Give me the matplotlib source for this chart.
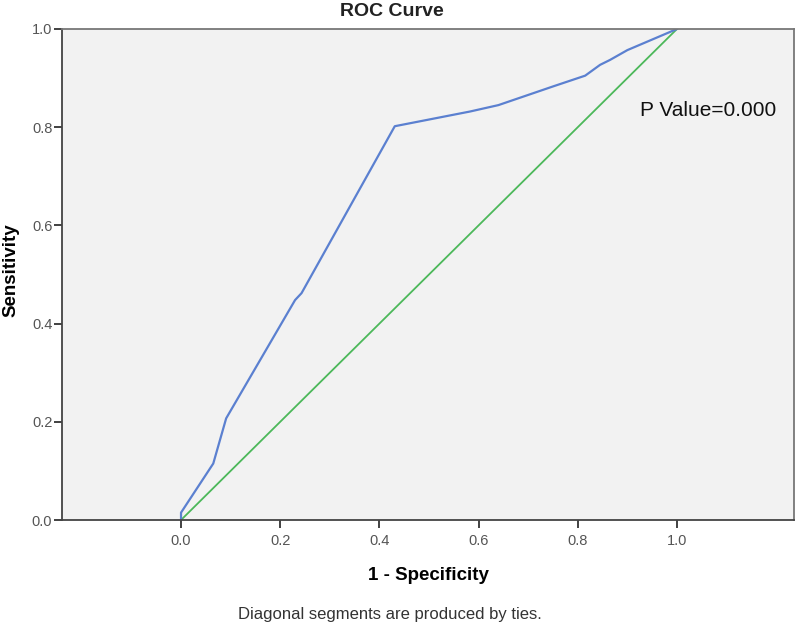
import matplotlib
matplotlib.use("Agg")
import matplotlib.pyplot as plt

plt.rcParams['font.family'] = ['Liberation Sans', 'DejaVu Sans']

# ROC curve
fpr = [0.0, 0.0, 0.065, 0.091, 0.23, 0.243, 0.431, 0.583, 0.64, 0.75, 0.815, 0.845, 0.865, 0.90, 1.0]
tpr = [0.0, 0.015, 0.115, 0.207, 0.448, 0.462, 0.802, 0.832, 0.845, 0.883, 0.905, 0.927, 0.937, 0.957, 1.0]
ref_x = [0.0, 1.0]
ref_y = [0.0, 1.0]
ticks = [0.0, 0.2, 0.4, 0.6, 0.8, 1.0]
p_text = "P Value=0.000"

fig = plt.figure(figsize=(8, 6.28), dpi=100)
ax = fig.add_axes([62 / 800, 1 - 520 / 628, (794 - 62) / 800, (520 - 29) / 628])
ax.set_facecolor('#f2f2f2')

ax.plot(ref_x, ref_y, color='#4cb85a', linewidth=1.3)
ax.plot(fpr, tpr, color='#5b80d0', linewidth=1.6)

ax.set_xlim(-0.24, 1.236)
ax.set_ylim(0, 1)
ax.set_xticks(ticks)
ax.set_yticks(ticks)
ax.set_xticklabels([f"{t:.1f}" for t in ticks])
ax.set_yticklabels([f"{t:.1f}" for t in ticks])
ax.tick_params(direction='out', length=6, width=1.3, colors='#333333',
               labelcolor='#555555', labelsize=10.5)
ax.tick_params(axis='x', pad=4)
ax.tick_params(axis='y', pad=1)
for side in ['left', 'bottom']:
    ax.spines[side].set_color('#444444')
    ax.spines[side].set_linewidth(1.3)
for side in ['top', 'right']:
    ax.spines[side].set_color('#777777')
    ax.spines[side].set_linewidth(1.3)

ax.text(0.925, 0.833, p_text, fontsize=15, color='#111111', va='center', ha='left')

ax.set_xlabel("1 - Specificity", fontsize=13.5, fontweight='bold', labelpad=14)
fig.text(11 / 800, 1 - 270 / 628, "Sensitivity", fontsize=13.5, fontweight='bold',
         rotation=90, ha='center', va='center')
fig.text(392 / 800, 1 - 11 / 628, "ROC Curve", fontsize=14, fontweight='bold',
         ha='center', va='center', color='#222222')
fig.text(390 / 800, 1 - 615 / 628, "Diagonal segments are produced by ties.",
         fontsize=12, ha='center', va='center', color='#333333')

fig.savefig("out.png", dpi=100)
